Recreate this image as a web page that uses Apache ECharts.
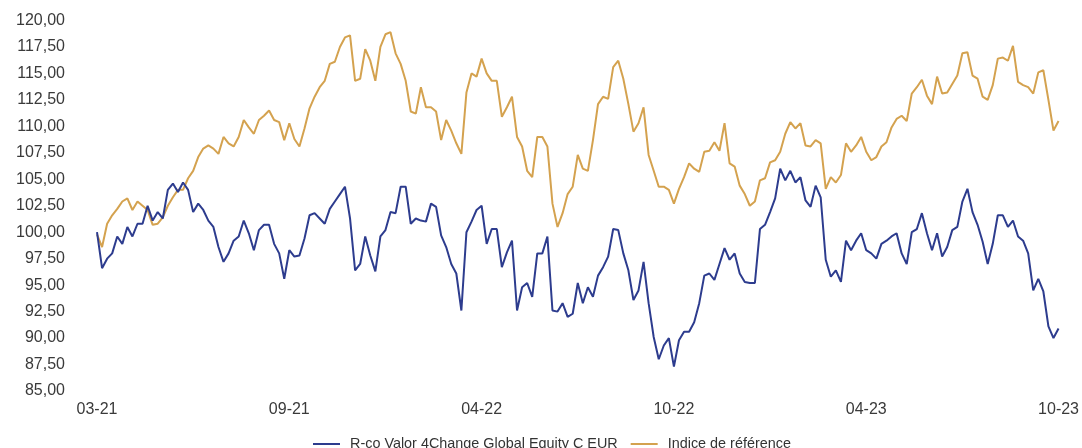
<!DOCTYPE html>
<html>
<head>
<meta charset="utf-8">
<script src="https://cdn.jsdelivr.net/npm/echarts@6/dist/echarts.min.js"></script>
<style>
html,body{margin:0;padding:0;background:#fff;}
#chart{width:1082px;height:448px;}
</style>
</head>
<body>
<div id="chart"></div>
<script>
const seriesNames = ['R-co Valor 4Change Global Equity C EUR', 'Indice de référence'];
const tickLabels = ['03-21', '09-21', '04-22', '10-22', '04-23', '10-23'];
const tickStep = 38;

const fundValues = [
100.0,96.6,97.5,98.0,99.6,98.9,100.5,99.6,100.8,100.8,
102.5,101.1,101.9,101.3,104.0,104.6,103.8,104.7,104.0,101.9,
102.7,102.1,101.1,100.5,98.6,97.2,98.0,99.2,99.6,101.1,
99.9,98.3,100.2,100.7,100.7,98.9,98.0,95.6,98.3,97.7,
97.8,99.4,101.6,101.8,101.3,100.8,102.2,102.9,103.6,104.3,
101.3,96.4,97.0,99.6,97.8,96.3,99.6,100.2,101.9,101.8,
104.3,104.3,100.8,101.3,101.1,101.0,102.7,102.4,99.7,98.6,
97.0,96.1,92.6,100.0,101.0,102.1,102.5,98.9,100.3,100.3,
96.7,98.1,99.2,92.6,94.8,95.2,93.9,98.0,98.0,99.6,
92.6,92.5,93.3,92.0,92.3,95.2,93.3,94.8,93.9,95.9,
96.7,97.7,100.3,100.2,98.0,96.4,93.6,94.5,97.2,93.3,
90.1,88.0,89.3,90.0,87.3,89.8,90.6,90.6,91.5,93.3,
95.9,96.1,95.5,97.0,98.5,97.4,98.0,96.1,95.3,95.2,
95.2,100.3,100.7,101.9,103.2,106.0,104.9,105.8,104.7,105.2,
103.0,102.4,104.4,103.3,97.4,95.8,96.4,95.3,99.2,98.3,
99.2,99.9,98.3,98.0,97.5,98.9,99.2,99.6,99.9,98.0,
97.0,100.0,100.3,101.8,99.9,98.3,99.9,97.7,98.6,100.2,
100.5,102.9,104.1,101.9,100.7,99.1,97.0,98.9,101.6,101.6,
100.5,101.1,99.6,99.2,98.0,94.5,95.6,94.4,91.1,90.0,
90.9
];

const benchmarkValues = [
99.8,98.6,100.8,101.6,102.2,102.9,103.2,102.1,102.9,102.5,
102.1,100.7,100.8,101.4,102.5,103.3,104.0,104.0,105.1,105.8,
107.1,107.9,108.2,107.9,107.4,109.0,108.4,108.1,109.0,110.6,
109.9,109.3,110.6,111.0,111.5,110.6,110.4,108.7,110.3,108.8,
108.1,109.8,111.7,112.8,113.7,114.3,115.9,116.1,117.5,118.4,
118.6,114.3,114.5,117.3,116.2,114.3,117.5,118.7,118.9,116.9,
115.9,114.3,111.4,111.2,113.7,111.8,111.8,111.4,108.7,110.6,
109.6,108.4,107.4,113.2,115.0,114.7,116.4,115.0,114.3,114.3,
110.9,111.8,112.8,109.0,108.1,105.8,105.2,109.0,109.0,108.1,
102.7,100.5,101.8,103.6,104.3,107.3,106.0,105.8,108.7,112.1,
112.8,112.6,115.6,116.2,114.5,112.1,109.5,110.3,111.8,107.3,
105.8,104.3,104.3,104.0,102.7,104.1,105.2,106.5,106.0,105.7,
107.6,107.7,108.5,107.7,110.3,106.5,106.2,104.4,103.6,102.5,
102.9,104.9,105.1,106.6,106.8,107.6,109.3,110.4,109.8,110.3,
108.2,108.1,108.7,108.4,104.1,105.2,104.7,105.4,108.4,107.6,
108.2,109.0,107.6,106.8,107.1,108.1,108.5,109.9,110.7,111.0,
110.5,113.1,113.7,114.4,112.9,112.1,114.7,113.1,113.2,114.0,
114.8,116.9,117.0,114.8,114.5,112.8,112.5,113.9,116.4,116.5,
116.2,117.6,114.2,113.9,113.7,113.1,115.1,115.3,112.5,109.6,
110.5
];

const categories = fundValues.map((_, i) => i);

const chart = echarts.init(document.getElementById('chart'), null, {renderer: 'canvas'});
const font = 'Liberation Sans';
chart.setOption({
  animation: false,
  backgroundColor: '#ffffff',
  grid: {left: 97, right: 22, top: 20.5, bottom: 57, containLabel: false},
  legend: {
    top: 432,
    left: 308,
    icon: 'rect',
    itemWidth: 27,
    itemHeight: 2,
    itemGap: 13,
    textStyle: {fontFamily: font, fontSize: 14.4, color: '#333333', padding: [0, 0, 0, 5]},
    data: seriesNames
  },
  xAxis: {
    type: 'category',
    data: categories,
    boundaryGap: false,
    axisLine: {show: false},
    axisTick: {show: false},
    splitLine: {show: false},
    axisLabel: {
      interval: tickStep - 1,
      margin: 11,
      fontFamily: font,
      fontSize: 16,
      color: '#3a3a3a',
      formatter: function (v, idx) { return tickLabels[Math.round(idx / tickStep)] || ''; }
    }
  },
  yAxis: {
    type: 'value',
    min: 85,
    max: 120,
    interval: 2.5,
    axisLine: {show: false},
    axisTick: {show: false},
    splitLine: {show: false},
    axisLabel: {
      margin: 32,
      fontFamily: font,
      fontSize: 16,
      color: '#3a3a3a',
      formatter: function (v) { return v.toFixed(2).replace('.', ','); }
    }
  },
  series: [
    {
      name: seriesNames[0],
      type: 'line',
      data: fundValues,
      symbol: 'none',
      lineStyle: {color: '#2D3C8E', width: 2},
      itemStyle: {color: '#2D3C8E'},
      z: 3
    },
    {
      name: seriesNames[1],
      type: 'line',
      data: benchmarkValues,
      symbol: 'none',
      lineStyle: {color: '#D4A24F', width: 2},
      itemStyle: {color: '#D4A24F'},
      z: 2
    }
  ]
});
</script>
</body>
</html>
